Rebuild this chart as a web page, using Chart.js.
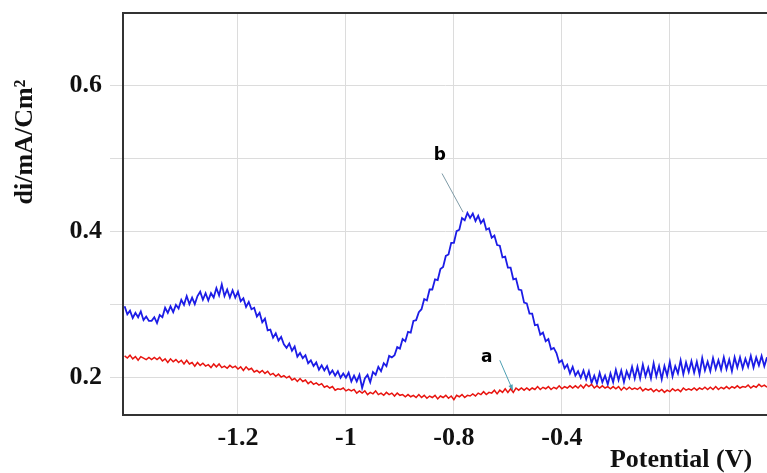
<!DOCTYPE html>
<html>
<head>
<meta charset="utf-8">
<script src="https://cdn.jsdelivr.net/npm/chart.js@4/dist/chart.umd.min.js"></script>
<style>
  html, body { margin: 0; padding: 0; background: #fff; overflow: hidden; }
  canvas { display: block; }
</style>
</head>
<body>
<canvas id="dpvChart" width="767" height="473"></canvas>
<script>
// Potential sweep (V)
const potential = [
  -1.410,-1.405,-1.400,-1.395,-1.390,-1.385,-1.380,-1.375,-1.370,-1.365,
  -1.360,-1.355,-1.350,-1.345,-1.340,-1.335,-1.330,-1.325,-1.320,-1.315,
  -1.310,-1.305,-1.300,-1.295,-1.290,-1.285,-1.280,-1.275,-1.270,-1.265,
  -1.260,-1.255,-1.250,-1.245,-1.240,-1.235,-1.230,-1.225,-1.220,-1.215,
  -1.210,-1.205,-1.200,-1.195,-1.190,-1.185,-1.180,-1.175,-1.170,-1.165,
  -1.160,-1.155,-1.150,-1.145,-1.140,-1.135,-1.130,-1.125,-1.120,-1.115,
  -1.110,-1.105,-1.100,-1.095,-1.090,-1.085,-1.080,-1.075,-1.070,-1.065,
  -1.060,-1.055,-1.050,-1.045,-1.040,-1.035,-1.030,-1.025,-1.020,-1.015,
  -1.010,-1.005,-1.000,-0.995,-0.990,-0.985,-0.980,-0.975,-0.970,-0.965,
  -0.960,-0.955,-0.950,-0.945,-0.940,-0.935,-0.930,-0.925,-0.920,-0.915,
  -0.910,-0.905,-0.900,-0.895,-0.890,-0.885,-0.880,-0.875,-0.870,-0.865,
  -0.860,-0.855,-0.850,-0.845,-0.840,-0.835,-0.830,-0.825,-0.820,-0.815,
  -0.810,-0.805,-0.800,-0.795,-0.790,-0.785,-0.780,-0.775,-0.770,-0.765,
  -0.760,-0.755,-0.750,-0.745,-0.740,-0.735,-0.730,-0.725,-0.720,-0.715,
  -0.710,-0.705,-0.700,-0.695,-0.690,-0.685,-0.680,-0.675,-0.670,-0.665,
  -0.660,-0.655,-0.650,-0.645,-0.640,-0.635,-0.630,-0.625,-0.620,-0.615,
  -0.610,-0.605,-0.600,-0.595,-0.590,-0.585,-0.580,-0.575,-0.570,-0.565,
  -0.560,-0.555,-0.550,-0.545,-0.540,-0.535,-0.530,-0.525,-0.520,-0.515,
  -0.510,-0.505,-0.500,-0.495,-0.490,-0.485,-0.480,-0.475,-0.470,-0.465,
  -0.460,-0.455,-0.450,-0.445,-0.440,-0.435,-0.430,-0.425,-0.420,-0.415,
  -0.410,-0.405,-0.400,-0.395,-0.390,-0.385,-0.380,-0.375,-0.370,-0.365,
  -0.360,-0.355,-0.350,-0.345,-0.340,-0.335,-0.330,-0.325,-0.320,-0.315,
  -0.310,-0.305,-0.300,-0.295,-0.290,-0.285,-0.280,-0.275,-0.270,-0.265,
  -0.260,-0.255,-0.250,-0.245,-0.240,-0.235,-0.230,-0.225,-0.220
];

// curve b (blue)
const currentB = [
  0.297,0.286,0.291,0.281,0.288,0.282,0.290,0.278,0.283,0.277,
  0.277,0.282,0.274,0.285,0.282,0.295,0.288,0.297,0.289,0.299,
  0.294,0.306,0.299,0.311,0.300,0.309,0.300,0.311,0.317,0.306,
  0.315,0.305,0.315,0.309,0.322,0.312,0.327,0.311,0.320,0.309,
  0.319,0.309,0.317,0.304,0.308,0.296,0.303,0.293,0.295,0.283,
  0.288,0.275,0.280,0.264,0.265,0.254,0.260,0.250,0.255,0.245,
  0.240,0.246,0.236,0.242,0.228,0.233,0.226,0.230,0.219,0.223,
  0.215,0.220,0.210,0.216,0.209,0.215,0.204,0.209,0.202,0.208,
  0.199,0.205,0.199,0.206,0.194,0.202,0.194,0.203,0.185,0.198,
  0.203,0.193,0.207,0.203,0.214,0.208,0.219,0.215,0.229,0.227,
  0.230,0.241,0.239,0.252,0.249,0.262,0.261,0.277,0.278,0.289,
  0.293,0.307,0.305,0.320,0.320,0.334,0.333,0.348,0.351,0.366,
  0.368,0.384,0.384,0.400,0.402,0.418,0.415,0.425,0.418,0.424,
  0.414,0.421,0.411,0.416,0.402,0.404,0.391,0.394,0.381,0.380,
  0.364,0.365,0.350,0.350,0.334,0.335,0.320,0.319,0.302,0.301,
  0.287,0.287,0.271,0.272,0.258,0.261,0.249,0.252,0.238,0.240,
  0.233,0.220,0.223,0.212,0.217,0.205,0.214,0.202,0.208,0.199,
  0.209,0.197,0.208,0.192,0.202,0.191,0.206,0.193,0.202,0.190,
  0.205,0.193,0.210,0.196,0.209,0.193,0.208,0.199,0.214,0.198,
  0.214,0.198,0.217,0.201,0.213,0.198,0.219,0.201,0.215,0.197,
  0.215,0.202,0.221,0.201,0.215,0.205,0.223,0.204,0.220,0.207,
  0.222,0.206,0.221,0.204,0.226,0.209,0.221,0.208,0.226,0.211,
  0.223,0.210,0.227,0.211,0.224,0.208,0.227,0.213,0.227,0.212,
  0.225,0.214,0.229,0.213,0.227,0.216,0.229,0.215,0.227
];

// curve a (red)
const currentA = [
  0.229,0.226,0.230,0.225,0.228,0.223,0.228,0.226,0.224,0.227,
  0.224,0.227,0.224,0.227,0.222,0.225,0.220,0.225,0.221,0.224,
  0.220,0.223,0.218,0.223,0.218,0.220,0.215,0.220,0.216,0.219,
  0.215,0.217,0.213,0.218,0.214,0.218,0.213,0.215,0.212,0.216,
  0.213,0.215,0.211,0.214,0.209,0.214,0.210,0.212,0.207,0.209,
  0.206,0.209,0.205,0.208,0.203,0.205,0.201,0.204,0.200,0.202,
  0.199,0.201,0.196,0.198,0.194,0.198,0.194,0.196,0.191,0.194,
  0.190,0.192,0.189,0.191,0.186,0.188,0.185,0.187,0.182,0.184,
  0.183,0.185,0.181,0.183,0.181,0.183,0.178,0.181,0.178,0.181,
  0.176,0.179,0.177,0.181,0.176,0.178,0.175,0.179,0.176,0.178,
  0.174,0.178,0.175,0.176,0.173,0.176,0.173,0.175,0.172,0.176,
  0.172,0.175,0.171,0.174,0.172,0.175,0.170,0.174,0.172,0.175,
  0.171,0.174,0.169,0.175,0.173,0.176,0.172,0.175,0.174,0.177,
  0.174,0.178,0.176,0.180,0.176,0.179,0.178,0.182,0.177,0.182,
  0.179,0.184,0.179,0.184,0.179,0.185,0.182,0.185,0.182,0.185,
  0.182,0.185,0.183,0.187,0.183,0.186,0.184,0.187,0.183,0.186,
  0.184,0.188,0.184,0.187,0.185,0.188,0.185,0.188,0.185,0.189,
  0.185,0.190,0.187,0.190,0.185,0.188,0.185,0.188,0.185,0.187,
  0.184,0.187,0.184,0.187,0.182,0.186,0.183,0.186,0.183,0.185,
  0.183,0.186,0.181,0.184,0.182,0.184,0.180,0.183,0.180,0.183,
  0.179,0.182,0.180,0.184,0.181,0.183,0.180,0.185,0.182,0.184,
  0.182,0.185,0.182,0.185,0.183,0.186,0.183,0.186,0.183,0.187,
  0.183,0.186,0.184,0.187,0.184,0.187,0.185,0.188,0.185,0.187,
  0.186,0.189,0.185,0.188,0.186,0.190,0.187,0.189,0.186
];

// Axis ticks as printed on the figure
const xTickValues = [-1.2, -1.0, -0.8, -0.6, -0.4];
const xTickLabels = ['-1.2', '-1', '-0.8', '-0.4', ''];
const yTickValues = [0.2, 0.3, 0.4, 0.5, 0.6];
const yTickLabels = ['0.2', '', '0.4', '', '0.6'];

// Curve labels: [text, labelX, labelY, leaderFromX, leaderFromY, leaderToX, leaderToY]
const curveNotes = [
  ['b', -0.826, 0.504, -0.822, 0.479, -0.783, 0.426],
  ['a', -0.739, 0.227, -0.715, 0.223, -0.691, 0.182],
];

const serif = "'Liberation Serif', 'Times New Roman', serif";

// Titles, top frame line, curve labels
const decorations = {
  id: 'decorations',
  afterDraw(chart) {
    const { ctx, chartArea, scales } = chart;
    ctx.save();

    // top frame line
    ctx.strokeStyle = '#333';
    ctx.lineWidth = 2;
    ctx.beginPath();
    ctx.moveTo(chartArea.left - 1, chartArea.top);
    ctx.lineTo(chartArea.right, chartArea.top);
    ctx.stroke();

    // y title
    ctx.fillStyle = '#111';
    ctx.font = 'bold 26px ' + serif;
    ctx.textAlign = 'center';
    ctx.textBaseline = 'middle';
    ctx.save();
    ctx.translate(25, 142);
    ctx.rotate(-Math.PI / 2);
    ctx.fillText('di/mA/Cm²', 0, 0);
    ctx.restore();

    // x title
    ctx.fillText('Potential (V)', 681, 460);

    // curve notes with leader lines
    curveNotes.forEach(([txt, lx, ly, fx, fy, tx, ty], i) => {
      const x0 = scales.x.getPixelForValue(fx), y0 = scales.y.getPixelForValue(fy);
      const x1 = scales.x.getPixelForValue(tx), y1 = scales.y.getPixelForValue(ty);
      ctx.strokeStyle = i === 0 ? '#7e9aa6' : '#4d9fb3';
      ctx.lineWidth = 1;
      ctx.beginPath();
      ctx.moveTo(x0, y0);
      ctx.lineTo(x1, y1);
      ctx.stroke();
      if (i === 1) {
        const ang = Math.atan2(y1 - y0, x1 - x0);
        ctx.fillStyle = '#4d9fb3';
        ctx.beginPath();
        ctx.moveTo(x1, y1);
        ctx.lineTo(x1 - 6 * Math.cos(ang - 0.4), y1 - 6 * Math.sin(ang - 0.4));
        ctx.lineTo(x1 - 6 * Math.cos(ang + 0.4), y1 - 6 * Math.sin(ang + 0.4));
        ctx.closePath();
        ctx.fill();
      }
      ctx.fillStyle = '#000';
      ctx.font = "bold 17px 'DejaVu Sans', sans-serif";
      ctx.fillText(txt, scales.x.getPixelForValue(lx), scales.y.getPixelForValue(ly));
    });

    ctx.restore();
  }
};

new Chart(document.getElementById('dpvChart'), {
  type: 'line',
  data: {
    datasets: [
      {
        label: 'a',
        data: potential.map((x, i) => ({ x, y: currentA[i] })),
        borderColor: '#e8140f',
        borderWidth: 1.5,
        pointRadius: 0,
        tension: 0,
      },
      {
        label: 'b',
        data: potential.map((x, i) => ({ x, y: currentB[i] })),
        borderColor: '#1c1ce6',
        borderWidth: 1.8,
        pointRadius: 0,
        tension: 0,
      },
    ]
  },
  options: {
    responsive: false,
    animation: false,
    layout: { padding: { top: 13, right: 0, left: 0, bottom: 0 } },
    plugins: { legend: { display: false }, tooltip: { enabled: false } },
    scales: {
      x: {
        type: 'linear',
        min: -1.413,
        max: -0.22,
        afterFit: s => { s.height = 58; s.paddingLeft = 0; s.paddingRight = 0; },
        afterBuildTicks: s => { s.ticks = xTickValues.map(v => ({ value: v })); },
        grid: { color: '#dcdcdc', drawTicks: false },
        border: { color: '#333', width: 2 },
        ticks: {
          padding: 8,
          color: '#111',
          font: { family: serif, size: 26, weight: 'bold' },
          maxRotation: 0,
          autoSkip: false,
          callback: (v, i) => xTickLabels[i],
        },
      },
      y: {
        min: 0.148,
        max: 0.699,
        afterFit: s => { s.width = 123; s.paddingTop = 0; s.paddingBottom = 0; },
        afterBuildTicks: s => { s.ticks = yTickValues.map(v => ({ value: v })); },
        grid: { color: '#dcdcdc', tickLength: 13 },
        border: { color: '#333', width: 2 },
        ticks: {
          padding: 8,
          color: '#111',
          font: { family: serif, size: 26, weight: 'bold' },
          callback: (v, i) => yTickLabels[i],
        },
      },
    },
  },
  plugins: [decorations],
});
</script>
</body>
</html>
